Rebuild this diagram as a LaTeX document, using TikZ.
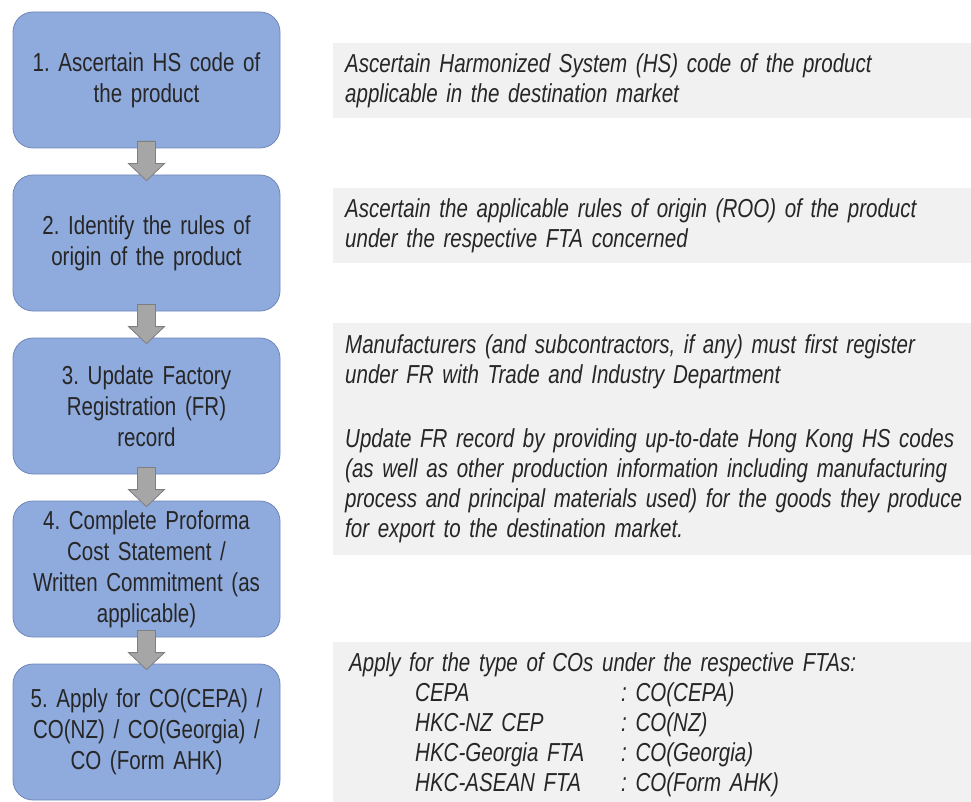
\documentclass[tikz,border=0pt]{standalone}
\usepackage{fontspec}
\setmainfont{Liberation Sans}[FakeStretch=0.79, WordSpace=0.4]
\frenchspacing
\usetikzlibrary{calc}

\definecolor{boksblaa}{HTML}{8FAADC}
\definecolor{bokskant}{HTML}{6F87B8}
\definecolor{pilgraa}{HTML}{A6A6A6}
\definecolor{pilkant}{HTML}{7F7F7F}
\definecolor{notatgraa}{HTML}{F1F1F1}
\definecolor{tekst}{HTML}{262626}

\begin{document}
\begin{tikzpicture}[
    x=1pt, y=1pt,
    grow=down,
    level distance=163pt,
    edge from parent/.style={draw=pilkant, fill=pilgraa, line width=0.8pt},
    edge from parent path={
        ($(\tikzparentnode.south)+(-9pt,7pt)$) -- ($(\tikzparentnode.south)+(9pt,7pt)$)
        -- ($(\tikzchildnode.north)+(9pt,11pt)$) -- ($(\tikzchildnode.north)+(18pt,11pt)$)
        -- ($(\tikzchildnode.north)+(0pt,-6pt)$) -- ($(\tikzchildnode.north)+(-18pt,11pt)$)
        -- ($(\tikzchildnode.north)+(-9pt,11pt)$) -- cycle},
    every node/.style={font=\fontsize{26pt}{31pt}\selectfont, text=tekst},
    boks/.style={rectangle, rounded corners=20pt, fill=boksblaa, draw=bokskant,
        line width=0.8pt, minimum width=267pt, minimum height=136pt,
        text width=250pt, align=center},
    notat/.style={rectangle, fill=notatgraa, anchor=north west, inner xsep=12pt,
        text width=640pt, align=left, font=\fontsize{26pt}{30pt}\selectfont\itshape}
    ]
\useasboundingbox (0,0) rectangle (971,-802);

\node[boks] (s1) at (146.5,-80) {1. Ascertain HS code of\\the product}
    %Step 2
    child {node[boks] (s2) {2. Identify the rules of\\origin of the product}
        %Step 3
        child {node[boks] (s3) {3. Update Factory\\Registration (FR)\\record}
            %Step 4
            child {node[boks] (s4) {4. Complete Proforma\\Cost Statement /\\Written Commitment (as\\applicable)}
                %Step 5
                child {node[boks] (s5) {5. Apply for CO(CEPA) /\\CO(NZ) / CO(Georgia) /\\CO (Form AHK)}}
            }
        }
    };

%Notes on the right
\node[notat, minimum height=75pt] (n1) at (333,-43)
    {Ascertain Harmonized System (HS) code of the product\\applicable in the destination market};
\node[notat, minimum height=75pt] (n2) at (333,-188)
    {Ascertain the applicable rules of origin (ROO) of the product\\under the respective FTA concerned};
\node[notat, minimum height=232pt] (n3) at (333,-323)
    {Manufacturers (and subcontractors, if any) must first register\\
    under FR with Trade and Industry Department\\[34pt]
    Update FR record by providing up-to-date Hong Kong HS codes\\
    (as well as other production information including manufacturing\\
    process and principal materials used) for the goods they produce\\
    for export to the destination market.};
\node[notat, minimum height=165pt] (n4) at (333,-642)
    {\hspace*{4pt}Apply for the type of COs under the respective FTAs:\\
    \hspace*{70pt}\makebox[206pt][l]{CEPA}: CO(CEPA)\\
    \hspace*{70pt}\makebox[206pt][l]{HKC-NZ CEP}: CO(NZ)\\
    \hspace*{70pt}\makebox[206pt][l]{HKC-Georgia FTA}: CO(Georgia)\\
    \hspace*{70pt}\makebox[206pt][l]{HKC-ASEAN FTA}: CO(Form AHK)};
\end{tikzpicture}
\end{document}
